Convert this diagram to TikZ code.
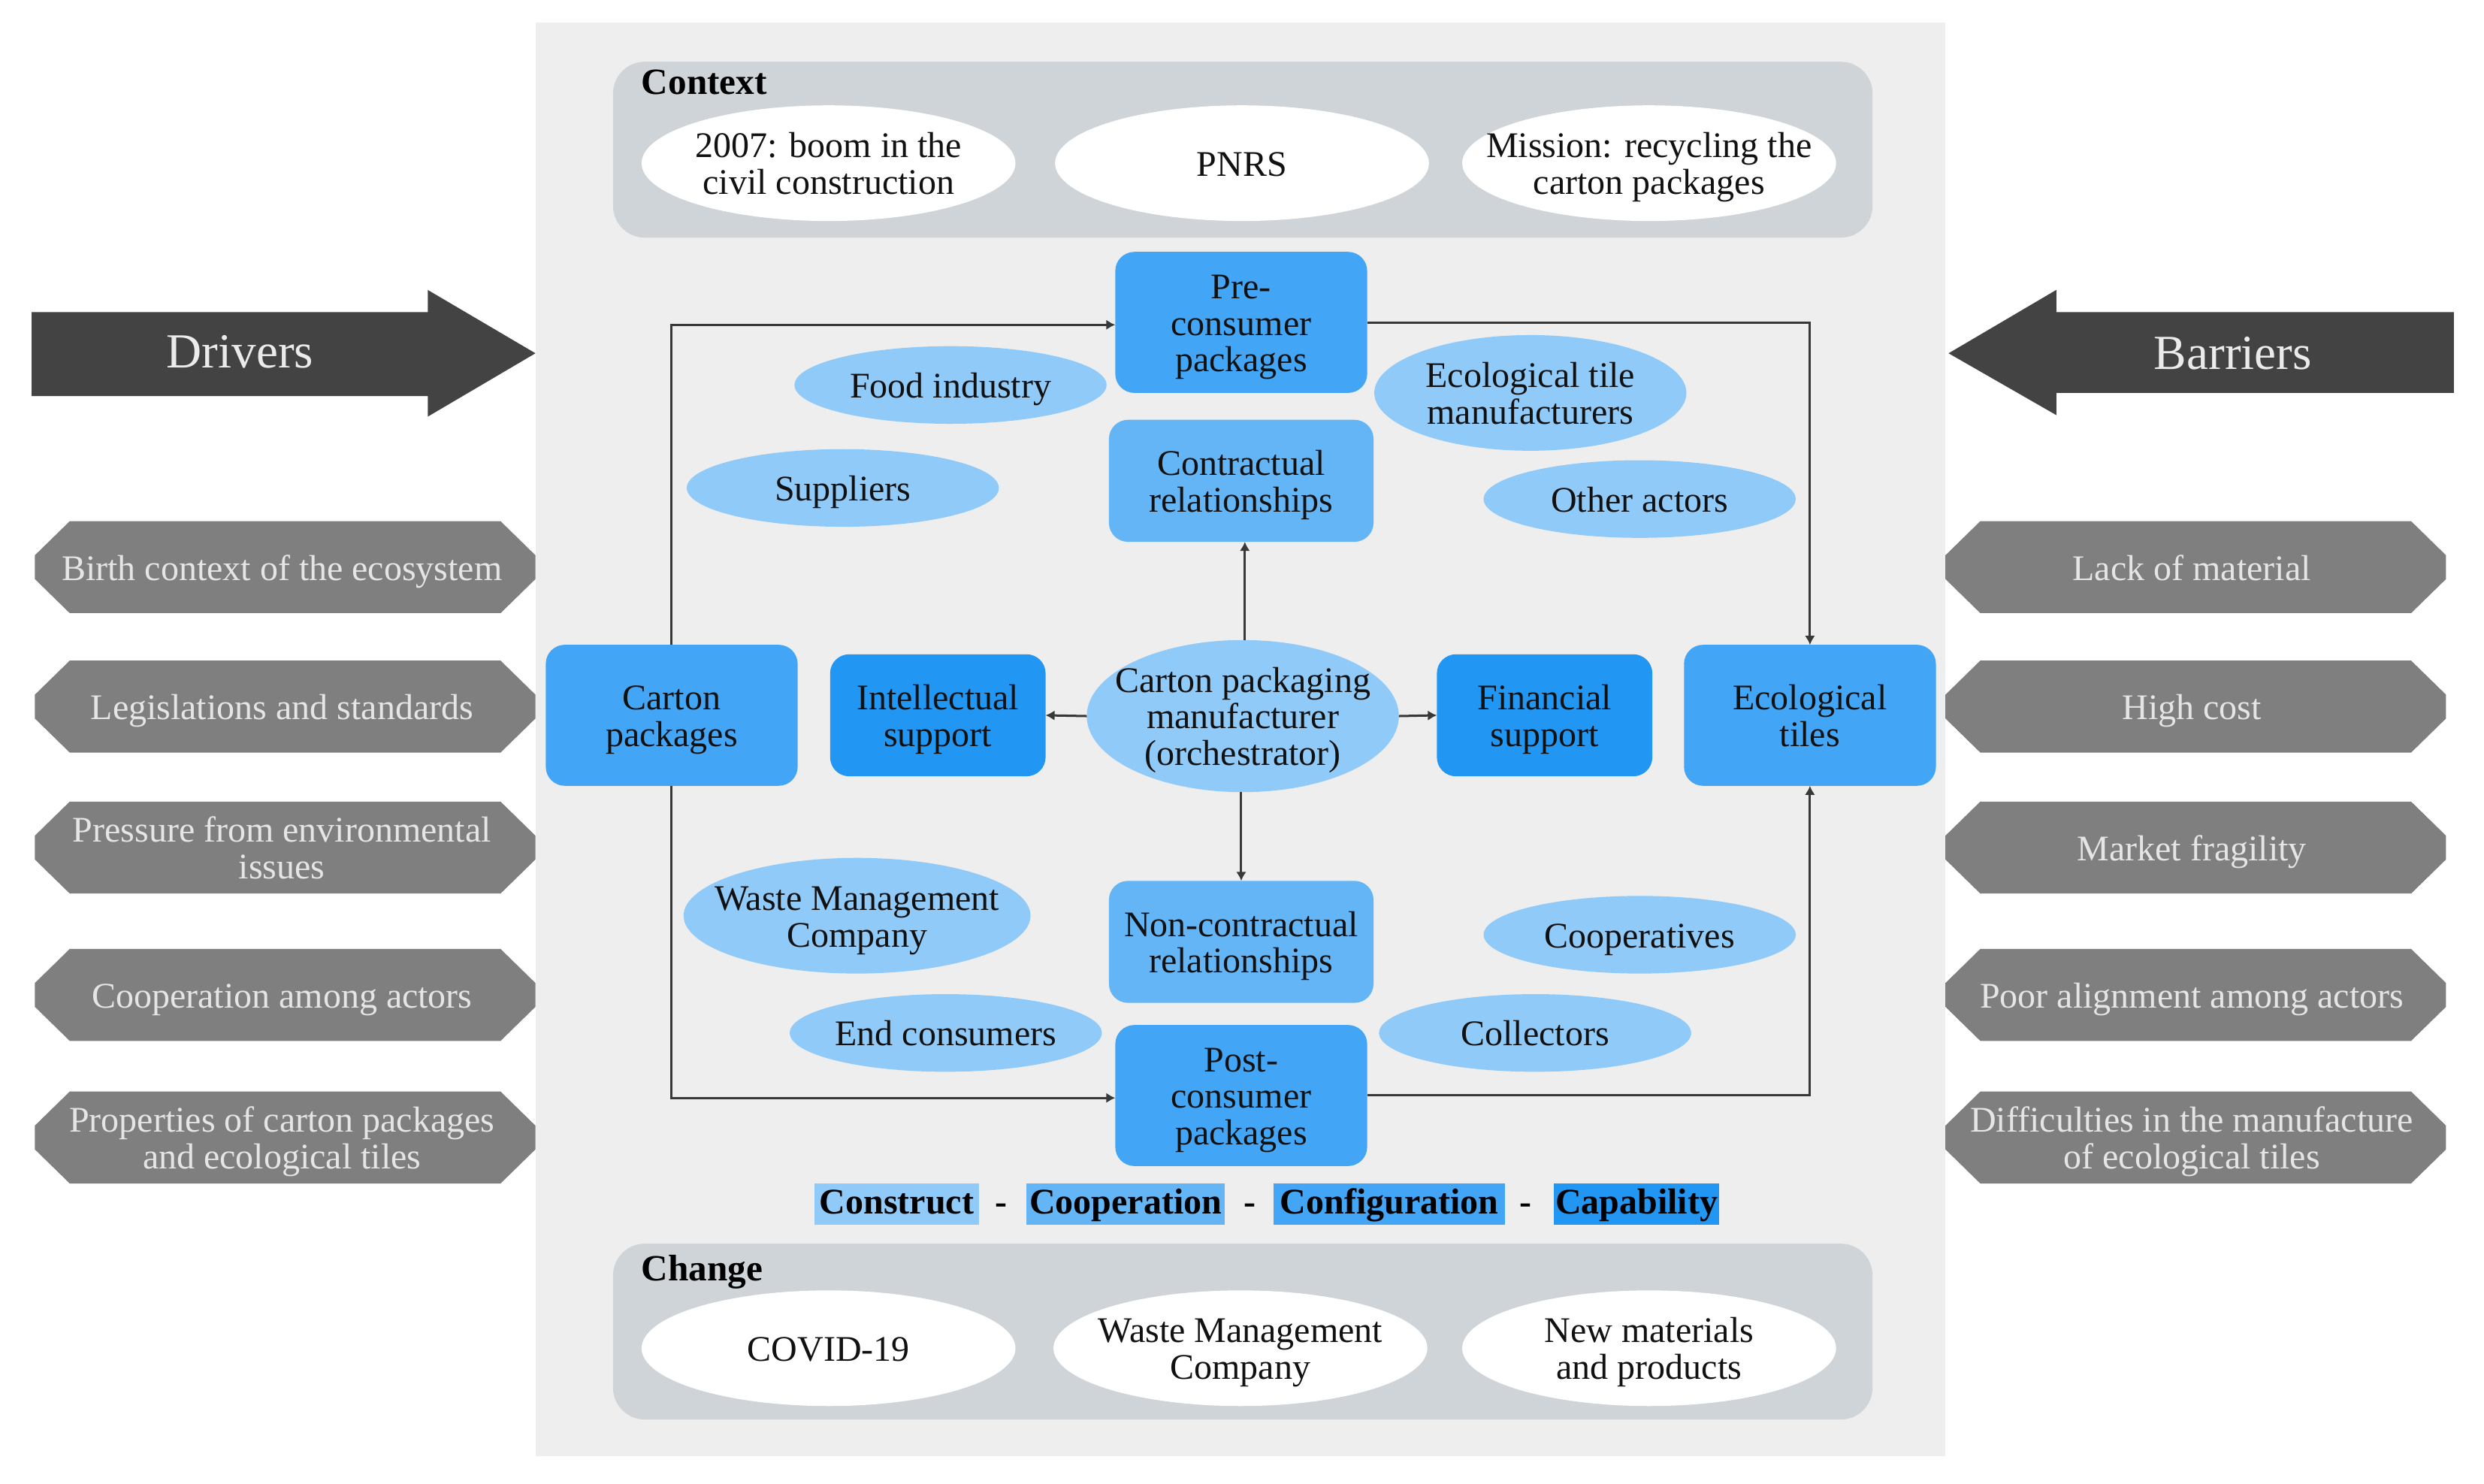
\documentclass[tikz,border=0pt]{standalone}
\usepackage{fontspec}
\setmainfont{Liberation Serif}
\usetikzlibrary{shapes.geometric,arrows.meta}
\definecolor{panel}{HTML}{EEEEEE}
\definecolor{bandc}{HTML}{CFD4D8}
\definecolor{darkarrow}{HTML}{434343}
\definecolor{hexgrey}{HTML}{7F7F7F}
\definecolor{blueA}{HTML}{90CAF9}
\definecolor{blueB}{HTML}{64B5F6}
\definecolor{blueC}{HTML}{42A5F5}
\definecolor{blueD}{HTML}{2196F3}
\definecolor{ink}{HTML}{111111}
\def\u{0.5271pt}
\def\nodeH{11.8pt}
\newcommand\ml[1]{\smash{\raisebox{-0.5pt}{\begin{tabular}{@{}c@{}}#1\end{tabular}}}}
\newcommand\hexat[2]{\fill[hexgrey] (#1-158,#2-7.5) -- (#1-136,#2-29) -- (#1+136,#2-29) -- (#1+158,#2-7.5) -- (#1+158,#2+7.5) -- (#1+136,#2+29) -- (#1-136,#2+29) -- (#1-158,#2+7.5) -- cycle;}
\tikzset{
  x=0.5271pt,y=-0.5271pt,
  every node/.style={font=\fontsize{12}{12.2}\selectfont,text=ink,align=center,inner sep=0pt,outer sep=0pt,
    execute at begin node={\rule{0pt}{\nodeH}},execute at end node={\rule[-3.2pt]{0pt}{3.2pt}}},
  sz/.style 2 args={minimum width=#1*\u,minimum height=#2*\u},
  bandbox/.style={draw=none,fill=bandc,rounded corners=20*\u},
  oval/.style 2 args={ellipse,draw=none,sz={#1}{#2},inner xsep=-40pt,inner ysep=-20pt},
  white oval/.style={oval={236}{73},fill=white},
  actor/.style={oval={197}{49},fill=blueA},
  actorT/.style={oval={197}{73},fill=blueA},
  box/.style n args={3}{rectangle,rounded corners=12*\u,sz={#1}{#2},fill=#3},
  hextext/.style={text=white!90!black,sz={316}{58}},
  biglabel/.style={font=\fontsize{16.3}{18}\selectfont,text=white!92!black},
  conn/.style={draw=black!78,line width=0.75pt,-{Latex[length=3pt,width=3.4pt]}},
  leg/.style 2 args={sz={#1}{26},fill=#2,font=\fontsize{12}{12.2}\selectfont\bfseries,text=black,/utils/exec={\def\nodeH{9.6pt}}},
  sepdash/.style={font=\fontsize{12}{12.2}\selectfont\bfseries,text=black,/utils/exec={\def\nodeH{9.6pt}}},
  headlabel/.style={font=\fontsize{12.3}{12.4}\selectfont\bfseries,anchor=west,text=black,/utils/exec={\def\nodeH{11pt}}},
}
\begin{document}
\begin{tikzpicture}
\useasboundingbox (0,0) rectangle (1568,936.7);
\fill[panel] (338,14) rectangle (1228,919);
% context and change bands
\node[bandbox,sz={795}{111}] (ctx) at (784.5,94.5) {};
\node[bandbox,sz={795}{111}] (chg) at (784.5,840.5) {};
\node[headlabel] (ctxl) at (405,52) {Context};
\node[headlabel] (chgl) at (405,801) {Change};
\node[white oval] (c1) at (523,103) {\ml{2007: boom in the\\civil construction}};
\node[white oval] (c2) at (784,103) {PNRS};
\node[white oval] (c3) at (1041,103) {\ml{Mission: recycling the\\carton packages}};
\node[white oval] (d1) at (523,851) {COVID-19};
\node[white oval] (d2) at (783,851) {\ml{Waste Management\\Company}};
\node[white oval] (d3) at (1041,851) {\ml{New materials\\and products}};
% big arrows
\fill[darkarrow] (20,197) -- (270,197) -- (270,183) -- (338,223) -- (270,263) -- (270,250) -- (20,250) -- cycle;
\fill[darkarrow] (1549,197) -- (1298,197) -- (1298,183) -- (1230,223) -- (1298,262) -- (1298,248) -- (1549,248) -- cycle;
\node[biglabel] (drvl) at (151.5,224) {Drivers};
\node[biglabel] (barl) at (1409.5,225) {Barriers};
% hexagons
\foreach \n/\y/\t in {h1/358/Birth context of the ecosystem,h2/446/Legislations and standards,h3/535/{\ml{Pressure from environmental\\issues}},h4/628/Cooperation among actors,h5/718/{\ml{Properties of carton packages\\and ecological tiles}}}{
  \hexat{180}{\y}
  \node[hextext] (\n) at (178,\y) {\t};}
\foreach \n/\y/\t in {k1/358/Lack of material,k2/446/High cost,k3/535/Market fragility,k4/628/Poor alignment among actors,k5/718/{\ml{Difficulties in the manufacture\\of ecological tiles}}}{
  \hexat{1386}{\y}
  \node[hextext] (\n) at (1383.5,\y) {\t};}
% main boxes
\node[box={159}{89}{blueC}] (pre) at (783.5,203.5) {\ml{Pre-\\consumer\\packages}};
\node[box={167}{77}{blueB}] (con) at (783.5,303.5) {\ml{Contractual\\relationships}};
\node[box={159}{89}{blueC}] (car) at (424,451.5) {\ml{Carton\\packages}};
\node[box={136}{77}{blueD}] (int) at (592,451.5) {\ml{Intellectual\\support}};
\node[box={136}{77}{blueD}] (fin) at (975,451.5) {\ml{Financial\\support}};
\node[box={159}{89}{blueC}] (eco) at (1142.5,451.5) {\ml{Ecological\\tiles}};
\node[box={167}{77}{blueB}] (non) at (783.5,594.5) {\ml{Non-contractual\\relationships}};
\node[box={159}{89}{blueC}] (pst) at (783.5,691.5) {\ml{Post-\\consumer\\packages}};
% ovals
\node[oval={197}{96},fill=blueA] (orc) at (784.5,452) {\ml{Carton packaging\\manufacturer\\(orchestrator)}};
\node[actor] (a1) at (600,243) {Food industry};
\node[actorT] (a2) at (966,248) {\ml{Ecological tile\\manufacturers}};
\node[actor] (a3) at (532,308) {Suppliers};
\node[actor] (a4) at (1035,315) {Other actors};
\node[oval={219}{73},fill=blueA] (a5) at (541,578) {\ml{Waste Management\\Company}};
\node[actor] (a6) at (1035,590) {Cooperatives};
\node[actor] (a7) at (597,652) {End consumers};
\node[actor] (a8) at (969,652) {Collectors};
% connectors
\draw[conn] (car.north) |- ([yshift=-0.8pt]pre.west);
\draw[conn] (pre.east) -| (eco.north);
\draw[conn] (car.south) |- ([yshift=-0.8pt]pst.west);
\draw[conn] (pst.east) -| (eco.south);
\draw[conn] ([xshift=1.2pt]con.south |- orc.north) -- ([xshift=1.2pt]con.south);
\draw[conn] (non.north |- orc.south) -- (non.north);
\draw[conn] (orc.west) -- (int.east);
\draw[conn] (orc.east) -- (fin.west);
% legend
\node[leg={104}{blueA}] (l1) at (566,760) {Construct};
\node[sepdash] (s1) at (632,760) {-};
\node[leg={125}{blueB}] (l2) at (710.5,760) {Cooperation};
\node[sepdash] (s2) at (789,760) {-};
\node[leg={146}{blueC}] (l3) at (877,760) {Configuration};
\node[sepdash] (s3) at (963,760) {-};
\node[leg={104}{blueD}] (l4) at (1033,760) {Capability};
\end{tikzpicture}
\end{document}
